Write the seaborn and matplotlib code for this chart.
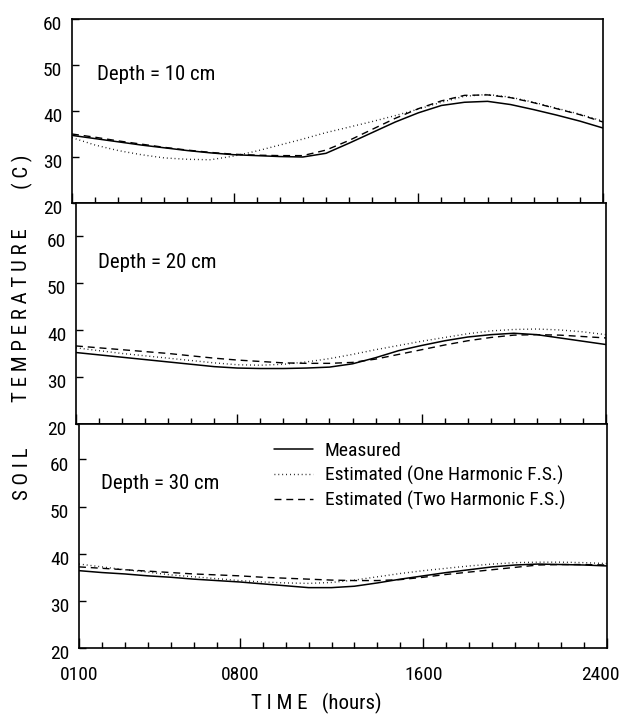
import numpy as np
import pandas as pd
import matplotlib
matplotlib.use("Agg")
import matplotlib.pyplot as plt
from matplotlib.lines import Line2D
from matplotlib.ticker import FixedLocator
from matplotlib import font_manager as fm
import matplotlib.transforms as mtransforms
import seaborn as sns

hours = list(range(1, 25))

# Depth = 10 cm
meas_10 = [34.7, 34.0, 33.3, 32.6, 32.0, 31.4, 30.9, 30.5, 30.3, 30.1, 30.0, 30.8,
           33.0, 35.3, 37.6, 39.6, 41.2, 41.9, 42.1, 41.4, 40.3, 39.1, 37.8, 36.3]
one_10 = [34.2, 32.6, 31.4, 30.5, 29.8, 29.5, 29.4, 30.2, 31.3, 32.6, 33.9, 35.3,
          36.5, 37.7, 39.0, 40.4, 41.9, 43.2, 43.6, 43.0, 41.9, 40.6, 39.3, 37.8]
two_10 = [35.0, 34.3, 33.5, 32.8, 32.1, 31.5, 31.0, 30.6, 30.4, 30.3, 30.3, 31.5,
          33.6, 36.0, 38.4, 40.5, 42.2, 43.4, 43.5, 42.9, 41.8, 40.5, 39.2, 37.6]

# Depth = 20 cm
meas_20 = [35.2, 34.7, 34.2, 33.7, 33.2, 32.7, 32.2, 31.9, 31.8, 31.8, 31.9, 32.1,
           32.8, 34.1, 35.6, 36.7, 37.7, 38.5, 39.0, 39.3, 39.0, 38.3, 37.6, 36.9]
one_20 = [36.2, 35.6, 35.0, 34.5, 34.0, 33.5, 33.0, 32.6, 32.5, 32.7, 33.2, 33.9,
          34.8, 35.8, 36.7, 37.6, 38.4, 39.2, 39.8, 40.1, 40.2, 40.0, 39.6, 39.0]
two_20 = [36.6, 36.2, 35.8, 35.4, 35.0, 34.5, 34.0, 33.6, 33.3, 33.0, 32.9, 32.9,
          33.1, 33.8, 34.8, 35.8, 36.8, 37.7, 38.4, 38.9, 39.0, 38.9, 38.6, 38.3]

# Depth = 30 cm
meas_30 = [36.4, 36.0, 35.7, 35.3, 35.0, 34.6, 34.3, 34.0, 33.6, 33.2, 32.8, 32.8,
           33.1, 33.8, 34.6, 35.3, 36.0, 36.6, 37.2, 37.6, 37.8, 37.7, 37.6, 37.4]
one_30 = [37.8, 37.2, 36.6, 36.1, 35.5, 35.1, 34.7, 34.3, 34.0, 33.8, 33.7, 33.9,
          34.4, 35.1, 35.8, 36.4, 36.9, 37.4, 37.8, 38.1, 38.2, 38.2, 38.1, 37.9]
two_30 = [37.2, 36.9, 36.6, 36.3, 36.0, 35.7, 35.5, 35.3, 35.0, 34.8, 34.6, 34.4,
          34.3, 34.3, 34.5, 35.0, 35.6, 36.1, 36.6, 37.1, 37.6, 37.7, 37.7, 37.6]

depth_labels = ["Depth = 10 cm", "Depth = 20 cm", "Depth = 30 cm"]
series_names = ["Measured", "Estimated (One Harmonic F.S.)", "Estimated (Two Harmonic F.S.)"]
xtick_vals = [1, 8, 16, 24]
xtick_labels = ["0100", "0800", "1600", "2400"]
ytick_vals = [20, 30, 40, 50, 60]
ylims = [(20, 60), (20, 67), (20, 67.5)]

sns.set_theme(style="ticks")

# pick a narrow font if one is installed
ttf = fm.fontManager.ttflist
names = {f.name for f in ttf}
stretch = "normal"
if "Liberation Sans Narrow" in names:
    FONT = ["Liberation Sans Narrow", "DejaVu Sans"]
elif "Roboto Condensed" in names:
    FONT = ["Roboto Condensed", "DejaVu Sans"]
elif any(f.name == "DejaVu Sans" and f.stretch in ("condensed", "semi-condensed") for f in ttf):
    FONT = ["DejaVu Sans"]
    stretch = "condensed"
else:
    FONT = ["Roboto", "DejaVu Sans"]
FS = 14
FS_D = 15
FS_Y = 15

plt.rcParams["font.family"] = FONT
plt.rcParams["font.stretch"] = stretch
for k in ["text.color", "axes.labelcolor", "xtick.color", "ytick.color", "axes.edgecolor"]:
    plt.rcParams[k] = "black"

W, H = 623, 717
fig = plt.figure(figsize=(W / 100, H / 100), dpi=100)

# panel boxes in pixels: left, right, top, bottom
boxes = [(72, 603, 19, 203), (76, 606, 203, 424), (79, 607, 424, 648)]
data_sets = [(meas_10, one_10, two_10), (meas_20, one_20, two_20), (meas_30, one_30, two_30)]
styles = [dict(linestyle="-", linewidth=1.1),
          dict(linestyle=(0, (0.6, 2.2)), linewidth=1.0),
          dict(linestyle=(0, (5, 3.5)), linewidth=1.0)]

axes = []
for i, (box, ds) in enumerate(zip(boxes, data_sets)):
    l, r, t, b = box
    ax = fig.add_axes([l / W, 1 - b / H, (r - l) / W, (b - t) / H])
    axes.append(ax)
    df = pd.DataFrame({"hour": hours * 3,
                       "temp": ds[0] + ds[1] + ds[2],
                       "series": sum([[n] * len(hours) for n in series_names], [])})
    for name, st in zip(series_names, styles):
        sub = df[df["series"] == name]
        sns.lineplot(data=sub, x="hour", y="temp", ax=ax, color="black", legend=False, **st)
    ax.set_xlim(1, 24)
    ax.set_ylim(*ylims[i])
    ax.set_xlabel("")
    ax.set_ylabel("")
    for sp in ax.spines.values():
        sp.set_visible(True)
        sp.set_linewidth(1.2)
        sp.set_color("black")
    ax.xaxis.set_major_locator(FixedLocator(xtick_vals))
    ax.xaxis.set_minor_locator(FixedLocator(list(range(2, 24))))
    ax.yaxis.set_major_locator(FixedLocator(ytick_vals))
    ax.tick_params(axis="x", which="major", direction="in", length=7, width=1.0,
                   top=False, bottom=True, pad=13, labelsize=FS, colors="black")
    ax.tick_params(axis="x", which="minor", direction="in", length=4, width=1.0,
                   top=False, bottom=True)
    ax.tick_params(axis="y", which="major", direction="in", length=5, width=1.0,
                   left=True, right=False, pad=7, labelsize=FS, colors="black")
    ax.set_yticklabels([str(v) for v in ytick_vals])
    if i < 2:
        ax.set_xticklabels([])
    else:
        ax.set_xticklabels(xtick_labels)
    ax.text(0.047 if i == 0 else 0.042, [0.70, 0.73, 0.733][i], depth_labels[i],
            transform=ax.transAxes, fontsize=FS_D, ha="left", va="center")
    ax.set_facecolor("white")

# nudge y tick labels slightly downward like the reference
for ax in axes:
    off = mtransforms.ScaledTranslation(0, -3 / 72, fig.dpi_scale_trans)
    for lab in ax.get_yticklabels():
        lab.set_transform(lab.get_transform() + off)

# keep the last x label inside the picture
xl = axes[2].get_xticklabels()
xl[-1].set_transform(xl[-1].get_transform() +
                     mtransforms.ScaledTranslation(-5 / 72, 0, fig.dpi_scale_trans))

handles = [Line2D([0], [0], color="black", **st) for st in styles]
leg = axes[2].legend(handles, series_names, loc="upper left", bbox_to_anchor=(0.37, 0.92),
                     frameon=False, fontsize=FS, handlelength=2.0, handletextpad=0.6,
                     labelspacing=0.3, borderaxespad=0, borderpad=0)
for t in leg.get_texts():
    t.set_color("black")

fig.text(22 / W, 1 - 474 / H, "S O I L", rotation=90, ha="center", va="center", fontsize=FS_Y)
fig.text(22 / W, 1 - 315 / H, "T E M P E R A T U R E", rotation=90, ha="center", va="center", fontsize=FS_Y)
fig.text(22 / W, 1 - 172 / H, "( C )", rotation=90, ha="center", va="center", fontsize=FS_Y)
fig.text(316 / W, 1 - 703 / H, "T I M E   (hours)", ha="center", va="center", fontsize=FS_Y)

fig.savefig("out.png", dpi=100, facecolor="white")
